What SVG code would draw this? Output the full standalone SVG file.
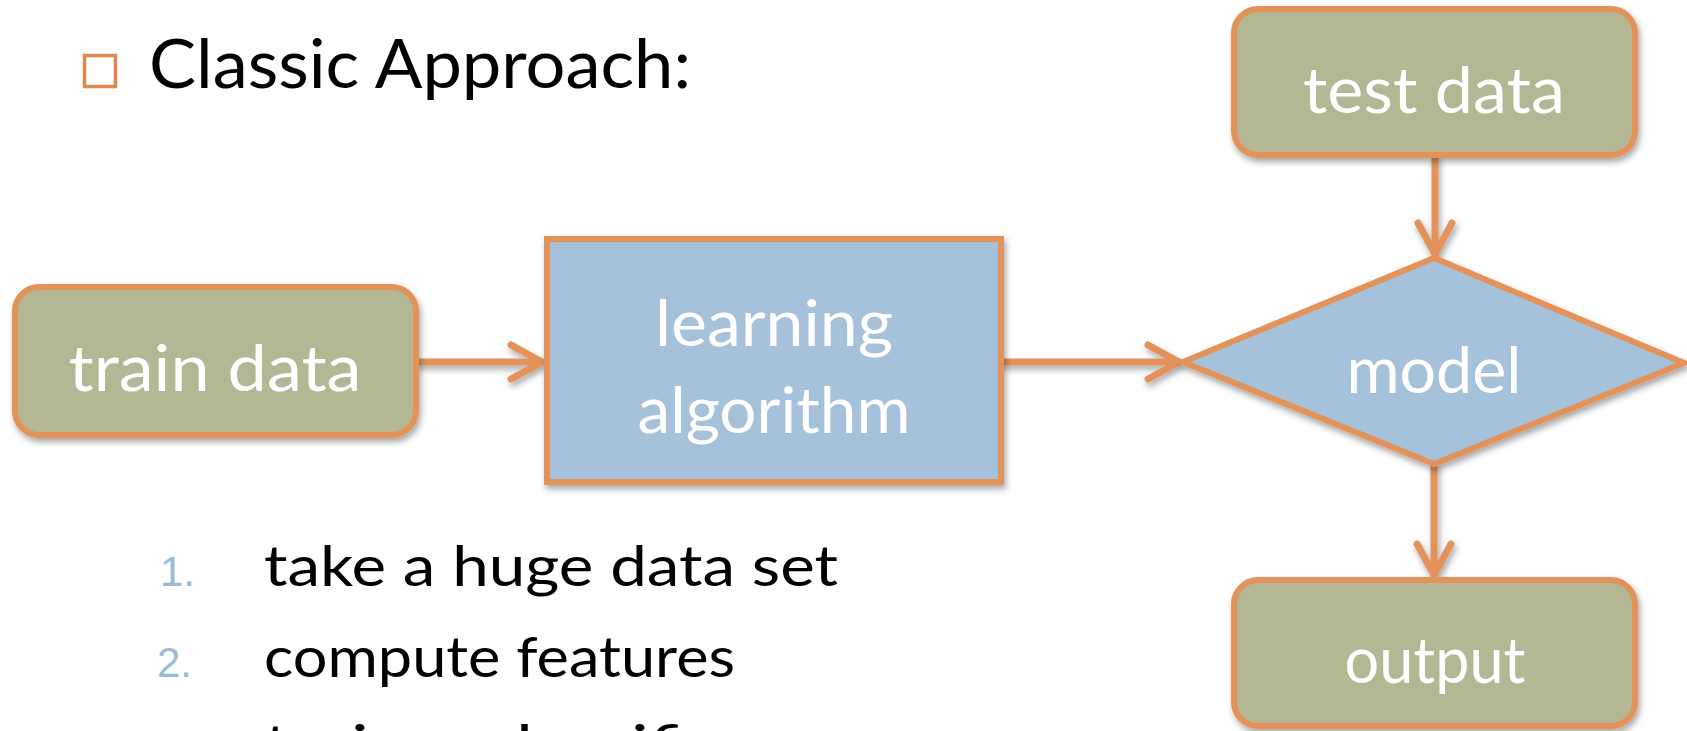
<svg xmlns="http://www.w3.org/2000/svg" width="1687" height="731" viewBox="0 0 1687 731">
  <style>
    .green { fill: #b3b793; stroke: #e3935a; stroke-width: 6; }
    .blue { fill: #a5c2da; stroke: #e3935a; stroke-width: 6; stroke-linejoin: miter; }
    .lbl { font-family: Lato, "Liberation Sans", sans-serif; font-size: 64px; fill: #ffffff; text-anchor: middle; }
    .title { font-family: Lato, "Liberation Sans", sans-serif; font-size: 68px; fill: #000000; }
    .item { font-family: Lato, "Liberation Sans", sans-serif; font-size: 57px; fill: #000000; }
    .num { font-family: "Liberation Sans", sans-serif; fill: #9bbad6; }
    .conn { fill: none; stroke: #e3935a; stroke-width: 7; stroke-linecap: round; }
  </style>
  <defs>
    <filter id="sh" x="-10%" y="-10%" width="125%" height="130%">
      <feDropShadow dx="2" dy="4" stdDeviation="3" flood-color="#000000" flood-opacity="0.35"/>
    </filter>
    <marker id="arr" markerUnits="userSpaceOnUse" viewBox="-42 -26 48 52" markerWidth="48" markerHeight="52" refX="0" refY="0" orient="auto">
      <path d="M -31 -17 L 0 0 L -31 17" fill="none" stroke="#e3935a" stroke-width="7" stroke-linecap="round" stroke-linejoin="round"/>
    </marker>
  </defs>
  <rect width="1687" height="731" fill="#ffffff"/>

  <g id="heading">
    <rect x="84.5" y="55.5" width="31" height="31" fill="none" stroke="#e0884b" stroke-width="3.5"/>
    <text class="title" x="149" y="88" textLength="542" lengthAdjust="spacingAndGlyphs">Classic Approach:</text>
  </g>

  <g id="list">
    <text class="num" x="160" y="586" font-size="42">1.</text>
    <text class="item" x="264" y="586" textLength="574" lengthAdjust="spacingAndGlyphs">take a huge data set</text>
    <text class="num" x="157" y="677" font-size="42">2.</text>
    <text class="item" x="264" y="677" textLength="471" lengthAdjust="spacingAndGlyphs">compute features</text>
    <text class="item" x="264" y="765" textLength="490" lengthAdjust="spacingAndGlyphs">train a classifier</text>
  </g>

  <g id="connectors" filter="url(#sh)">
    <line class="conn" x1="418" y1="362" x2="542" y2="362" marker-end="url(#arr)"/>
    <line class="conn" x1="1003" y1="362" x2="1179" y2="362" marker-end="url(#arr)"/>
    <line class="conn" x1="1435" y1="157" x2="1435" y2="254" marker-end="url(#arr)"/>
    <line class="conn" x1="1434" y1="466" x2="1434" y2="575" marker-end="url(#arr)"/>
  </g>

  <g id="train-data" filter="url(#sh)">
    <rect class="green" x="15" y="287" width="401" height="148" rx="24"/>
    <text class="lbl" x="215" y="391" textLength="293" lengthAdjust="spacingAndGlyphs">train data</text>
  </g>

  <g id="learning-algorithm" filter="url(#sh)">
    <rect class="blue" x="547" y="239" width="454" height="243"/>
    <text class="lbl" x="774" y="346" textLength="238" lengthAdjust="spacingAndGlyphs">learning</text>
    <text class="lbl" x="774" y="433" textLength="273" lengthAdjust="spacingAndGlyphs">algorithm</text>
  </g>

  <g id="test-data" filter="url(#sh)">
    <rect class="green" x="1234" y="9" width="401" height="146" rx="24"/>
    <text class="lbl" x="1434" y="113" textLength="262" lengthAdjust="spacingAndGlyphs">test data</text>
  </g>

  <g id="model" filter="url(#sh)">
    <polygon class="blue" points="1183,362 1434,258 1684,363 1434,464"/>
    <text class="lbl" x="1434" y="393" textLength="175" lengthAdjust="spacingAndGlyphs">model</text>
  </g>

  <g id="output" filter="url(#sh)">
    <rect class="green" x="1234" y="580" width="401" height="146" rx="24"/>
    <text class="lbl" x="1435" y="683" textLength="181" lengthAdjust="spacingAndGlyphs">output</text>
  </g>
</svg>
